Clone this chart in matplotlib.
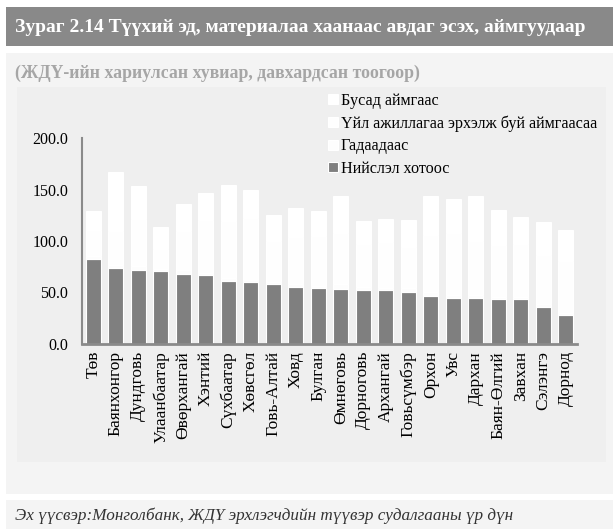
import matplotlib
matplotlib.use("Agg")
import matplotlib.pyplot as plt
from matplotlib.patches import Rectangle
import numpy as np

plt.rcParams['font.family'] = ['Liberation Serif', 'DejaVu Serif']

# aimags, left to right
aimags = ["Төв", "Баянхонгор", "Дундговь", "Улаанбаатар", "Өвөрхангай", "Хэнтий",
          "Сүхбаатар", "Хөвсгөл", "Говь-Алтай", "Ховд", "Булган", "Өмнөговь",
          "Дорноговь", "Архангай", "Говьсүмбэр", "Орхон", "Увс", "Дархан",
          "Баян-Өлгий", "Завхан", "Сэлэнгэ", "Дорнод"]

# stacked series (% of respondents, multiple answers)
capital = [82.2, 74.1, 71.9, 70.6, 68.0, 66.7, 61.2, 59.9, 57.9, 55.3, 54.7,
           53.7, 52.4, 52.4, 50.8, 46.6, 45.0, 45.0, 44.0, 44.0, 35.6, 28.5]
foreign = [3.0, 2.5, 4.0, 2.0, 3.5, 2.0, 3.0, 2.5, 2.0, 3.0, 2.0,
           4.5, 3.0, 2.0, 3.5, 4.0, 2.5, 3.0, 2.0, 1.5, 3.0, 2.0]
own_aimag = [25.0, 33.0, 45.0, 20.0, 38.0, 52.0, 55.0, 60.0, 40.0, 46.0, 48.0,
             50.0, 42.0, 45.0, 40.0, 55.0, 60.0, 52.0, 50.0, 52.0, 48.0, 50.0]
other_aimag = [18.9, 57.4, 32.5, 21.3, 26.1, 25.9, 35.2, 27.1, 25.4, 27.7, 24.4,
               35.5, 22.0, 22.0, 25.8, 38.4, 33.3, 44.0, 34.1, 25.8, 31.9, 30.2]

yticks = [0, 50, 100, 150, 200]

W, H = 613, 529
fig = plt.figure(figsize=(W / 100, H / 100), dpi=100)
fig.patch.set_facecolor("white")

def box(x0, y0, x1, y1, color):
    # rectangle in pixel coords (top-left origin)
    fig.patches.append(Rectangle((x0 / W, 1 - y1 / H), (x1 - x0) / W, (y1 - y0) / H,
                                 transform=fig.transFigure, facecolor=color,
                                 edgecolor="none", zorder=-10))

box(6, 7, 613, 46, "#898989")      # title banner
box(6, 53, 613, 494, "#f4f4f4")    # outer panel
box(17, 87, 606, 462, "#efefef")   # chart area
box(6, 500, 613, 529, "#f4f4f4")   # source band

fig.text(15 / W, 1 - 27 / H, "Зураг 2.14 Түүхий эд, материалаа хаанаас авдаг эсэх, аймгуудаар",
         color="white", fontsize=14, fontweight="bold", va="center", ha="left")
fig.text(15 / W, 1 - 73 / H, "(ЖДҮ-ийн хариулсан хувиар, давхардсан тоогоор)",
         color="#a6a6a6", fontsize=12.8, fontweight="bold", va="center", ha="left")
fig.text(15 / W, 1 - 516 / H, "Эх үүсвэр:Монголбанк, ЖДҮ эрхлэгчдийн түүвэр судалгааны үр дүн",
         color="#333333", fontsize=12.3, style="italic", va="center", ha="left")

ax = fig.add_axes([82 / W, 1 - 344 / H, (577 - 82) / W, (344 - 138) / H])
ax.set_facecolor("none")

x = np.arange(len(aimags))
cap = np.array(capital)
fo = np.array(foreign)
ow = np.array(own_aimag)
ot = np.array(other_aimag)
bw = 0.66
kw = dict(width=bw, edgecolor="white", linewidth=0.8)
b1 = ax.bar(x, cap, color="#7f7f7f", label="Нийслэл хотоос", **kw)
b2 = ax.bar(x, fo, bottom=cap, color="#fdfdfd", label="Гадаадаас", **kw)
b3 = ax.bar(x, ow, bottom=cap + fo, color="#fefefe",
            label="Үйл ажиллагаа эрхэлж буй аймгаасаа", **kw)
b4 = ax.bar(x, ot, bottom=cap + fo + ow, color="#ffffff", label="Бусад аймгаас", **kw)

ax.set_xlim(-0.5, len(aimags) - 0.5)
ax.set_ylim(0, 200)
ax.set_yticks(yticks)
ax.set_yticklabels([f"{v:.1f}" for v in yticks], fontsize=11.5)
ax.set_xticks(x)
ax.set_xticklabels(aimags, rotation=90, fontsize=12.5)
ax.tick_params(length=0)
ax.tick_params(axis="y", pad=10)
ax.tick_params(axis="x", pad=5)
for s in ["top", "right"]:
    ax.spines[s].set_visible(False)
ax.spines["left"].set_color("#8a8a8a")
ax.spines["left"].set_linewidth(1.5)
ax.spines["bottom"].set_color("#8a8a8a")
ax.spines["bottom"].set_linewidth(2)

fig.legend([b4, b3, b2, b1],
           ["Бусад аймгаас", "Үйл ажиллагаа эрхэлж буй аймгаасаа", "Гадаадаас", "Нийслэл хотоос"],
           loc="upper left", bbox_to_anchor=(328 / W, 1 - 93 / H), frameon=False,
           fontsize=11.6, handlelength=0.6, handleheight=0.6, handletextpad=0.2,
           labelspacing=0.4, borderaxespad=0, borderpad=0)

fig.savefig("out.png", dpi=100)
